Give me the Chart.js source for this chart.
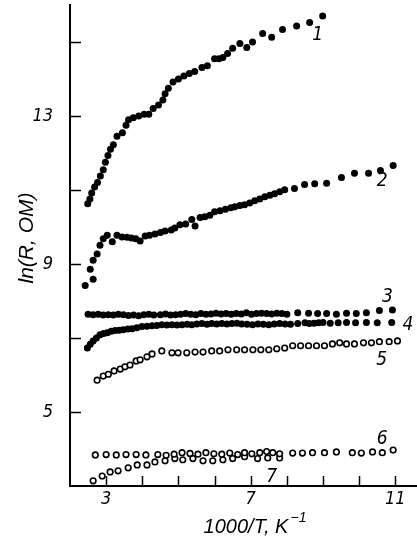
<!DOCTYPE html>
<html>
<head>
<meta charset="utf-8">
<script src="https://cdn.jsdelivr.net/npm/chart.js@4.4.1/dist/chart.umd.min.js"></script>
<style>
  html, body { margin: 0; padding: 0; background: #fff; }
  #chart { display: block; }
</style>
</head>
<body>
<canvas id="chart" width="417" height="542"></canvas>
<script>
// axis ticks (every tick gets a mark, only some get a number)
const xTicks = [3, 4, 5, 6, 7, 8, 9, 10, 11];
const xLabels = [3, 7, 11];
const yTicks = [5, 7, 9, 11, 13, 15];
const yLabels = [5, 9, 13];

// curves, [1000/T, ln R]
const curve1 = [[2.49,10.63],[2.55,10.76],[2.6,10.92],[2.68,11.08],[2.76,11.2],[2.84,11.38],[2.92,11.55],[2.98,11.75],[3.05,11.93],
  [3.12,12.1],[3.2,12.22],[3.3,12.45],[3.45,12.55],[3.55,12.75],[3.62,12.9],[3.75,12.95],[3.9,13.0],[4.05,13.05],[4.18,13.05],
  [4.3,13.2],[4.45,13.3],[4.57,13.43],[4.63,13.6],[4.72,13.75],[4.85,13.92],[5.0,14.0],[5.15,14.08],[5.3,14.15],[5.45,14.2],
  [5.65,14.31],[5.8,14.36],[6.0,14.55],[6.12,14.55],[6.23,14.58],[6.36,14.69],[6.5,14.83],[6.7,14.96],[6.89,14.85],[7.05,15.0],
  [7.33,15.23],[7.58,15.13],[7.88,15.34],[8.27,15.43],[8.63,15.53],[8.99,15.7]];
const curve2 = [[2.42,8.42],[2.64,8.59],[2.56,8.86],[2.64,9.1],[2.75,9.27],[2.83,9.51],[2.92,9.68],[3.03,9.78],[3.17,9.6],
  [3.3,9.78],[3.44,9.73],[3.58,9.72],[3.7,9.7],[3.82,9.68],[3.94,9.62],[4.08,9.76],[4.2,9.78],[4.35,9.81],[4.5,9.85],[4.63,9.89],
  [4.8,9.92],[4.9,9.97],[5.04,10.06],[5.2,10.08],[5.37,10.2],[5.46,10.03],[5.6,10.26],[5.73,10.28],[5.87,10.32],[6.0,10.41],
  [6.15,10.44],[6.3,10.48],[6.45,10.52],[6.56,10.55],[6.7,10.58],[6.83,10.6],[6.97,10.65],[7.11,10.71],[7.25,10.76],[7.39,10.82],
  [7.53,10.86],[7.66,10.9],[7.8,10.95],[7.94,11.01],[8.21,11.04],[8.49,11.15],[8.77,11.17],[9.1,11.18],[9.51,11.34],[9.87,11.45],
  [10.26,11.45],[10.59,11.53],[10.94,11.66]];
const curve3 = [[2.5,7.64],[2.64,7.63],[2.78,7.64],[2.92,7.62],[3.06,7.63],[3.2,7.62],[3.34,7.64],[3.48,7.63],[3.62,7.61],
  [3.76,7.62],[3.9,7.6],[4.04,7.63],[4.18,7.64],[4.32,7.62],[4.5,7.63],[4.64,7.65],[4.78,7.62],[4.92,7.63],[5.06,7.64],[5.2,7.66],
  [5.34,7.64],[5.48,7.63],[5.62,7.66],[5.76,7.64],[5.9,7.65],[6.04,7.67],[6.18,7.65],[6.32,7.66],[6.46,7.64],[6.6,7.66],[6.74,7.65],
  [6.88,7.68],[7.02,7.64],[7.16,7.66],[7.3,7.67],[7.44,7.66],[7.58,7.65],[7.72,7.67],[7.86,7.66],[8.0,7.64],[8.3,7.68],[8.6,7.67],
  [8.85,7.66],[9.1,7.66],[9.37,7.64],[9.65,7.67],[9.92,7.66],[10.2,7.68],[10.56,7.74],[10.92,7.76]];
const curve4 = [[2.48,6.73],[2.56,6.83],[2.64,6.92],[2.73,7.0],[2.83,7.09],[2.93,7.12],[3.03,7.14],[3.14,7.18],[3.25,7.2],
  [3.36,7.21],[3.47,7.22],[3.6,7.24],[3.72,7.25],[3.85,7.28],[3.99,7.31],[4.13,7.32],[4.27,7.33],[4.4,7.34],[4.54,7.36],[4.68,7.35],
  [4.82,7.36],[4.96,7.35],[5.1,7.36],[5.24,7.37],[5.37,7.36],[5.51,7.38],[5.65,7.39],[5.79,7.37],[5.92,7.39],[6.06,7.38],[6.2,7.39],
  [6.34,7.38],[6.48,7.39],[6.62,7.4],[6.75,7.38],[6.9,7.37],[7.05,7.36],[7.2,7.38],[7.35,7.37],[7.5,7.36],[7.65,7.38],[7.8,7.39],
  [7.95,7.38],[8.1,7.37],[8.3,7.39],[8.5,7.41],[8.62,7.39],[8.75,7.4],[8.88,7.41],[9.0,7.42],[9.2,7.4],[9.42,7.41],[9.65,7.42],
  [9.9,7.41],[10.2,7.42],[10.5,7.41],[10.9,7.42]];
const curve5 = [[2.75,5.86],[2.92,5.97],[3.06,6.02],[3.22,6.11],[3.39,6.16],[3.52,6.22],[3.66,6.27],[3.83,6.38],[3.94,6.41],
  [4.13,6.49],[4.27,6.57],[4.54,6.65],[4.82,6.6],[4.99,6.6],[5.23,6.6],[5.46,6.62],[5.68,6.62],[5.92,6.65],[6.14,6.65],[6.37,6.68],
  [6.61,6.68],[6.83,6.68],[7.06,6.68],[7.28,6.68],[7.5,6.68],[7.72,6.71],[7.94,6.73],[8.16,6.79],[8.38,6.79],[8.6,6.79],[8.82,6.79],
  [9.04,6.79],[9.26,6.84],[9.46,6.87],[9.65,6.84],[9.87,6.84],[10.12,6.87],[10.34,6.87],[10.56,6.9],[10.83,6.9],[11.06,6.92]];
const curve6 = [[2.7,3.84],[3.0,3.85],[3.28,3.84],[3.55,3.85],[3.83,3.85],[4.1,3.84],[4.43,3.85],[4.66,3.83],[4.88,3.86],
  [5.1,3.9],[5.32,3.88],[5.54,3.86],[5.76,3.9],[5.98,3.87],[6.2,3.86],[6.42,3.89],[6.64,3.85],[6.83,3.9],[7.03,3.87],[7.25,3.9],
  [7.44,3.93],[7.61,3.9],[7.8,3.87],[8.16,3.89],[8.43,3.89],[8.71,3.9],[9.04,3.9],[9.37,3.92],[9.81,3.9],[10.06,3.89],[10.37,3.92],
  [10.64,3.9],[10.94,3.97]];
const curve7 = [[2.64,3.14],[2.89,3.27],[3.11,3.38],[3.33,3.41],[3.61,3.49],[3.86,3.57],[4.13,3.57],[4.35,3.65],[4.63,3.68],
  [4.9,3.74],[5.12,3.71],[5.4,3.74],[5.68,3.68],[5.95,3.68],[6.23,3.71],[6.5,3.74],[6.83,3.79],[7.19,3.74],[7.47,3.76],[7.8,3.76]];

const curves = [curve1, curve2, curve3, curve4, curve5, curve6, curve7];
const filled = [true, true, true, true, false, false, false];

// curve numbers, placed in data units
const curveLabels = [
  { text: '1', x: 8.85, y: 15.18 },
  { text: '2', x: 10.64, y: 11.23 },
  { text: '3', x: 10.78, y: 8.1 },
  { text: '4', x: 11.35, y: 7.36 },
  { text: '5', x: 10.62, y: 6.41 },
  { text: '6', x: 10.64, y: 4.28 },
  { text: '7', x: 7.58, y: 3.25 }
];

const FONT = "'Liberation Sans Narrow', 'DejaVu Sans Condensed', sans-serif";

const axisMarks = {
  id: 'axisMarks',
  afterDraw(chart) {
    const { ctx, chartArea: a, scales: { x, y } } = chart;
    ctx.save();
    ctx.strokeStyle = '#000';
    ctx.lineWidth = 1.5;
    xTicks.forEach(v => {
      const px = Math.round(x.getPixelForValue(v)) + 0.5;
      ctx.beginPath(); ctx.moveTo(px, a.bottom); ctx.lineTo(px, a.bottom - 10); ctx.stroke();
    });
    yTicks.forEach(v => {
      const py = Math.round(y.getPixelForValue(v)) + 0.5;
      ctx.beginPath(); ctx.moveTo(a.left, py); ctx.lineTo(a.left + 11, py); ctx.stroke();
    });

    ctx.fillStyle = '#000';
    ctx.textAlign = 'center';
    ctx.textBaseline = 'middle';
    ctx.font = 'italic 19px ' + FONT;
    curveLabels.forEach(l => ctx.fillText(l.text, x.getPixelForValue(l.x), y.getPixelForValue(l.y)));

    // x title with superscript
    ctx.font = "italic 20px 'Liberation Sans', sans-serif";
    const main = '1000/T, K';
    const mw = ctx.measureText(main).width;
    ctx.font = "italic 14px 'Liberation Sans', sans-serif";
    const sup = '\u22121';
    const sw = ctx.measureText(sup).width;
    const startX = 255 - (mw + sw + 2) / 2;
    ctx.textAlign = 'left';
    ctx.font = "italic 20px 'Liberation Sans', sans-serif";
    ctx.fillText(main, startX, 527);
    ctx.font = "italic 14px 'Liberation Sans', sans-serif";
    ctx.fillText(sup, startX + mw + 2, 518);

    // y title
    ctx.translate(27, 238);
    ctx.rotate(-Math.PI / 2);
    ctx.textAlign = 'center';
    ctx.font = "italic 21px 'Liberation Sans', sans-serif";
    ctx.fillText('ln(R, ОМ)', 0, 0);
    ctx.restore();
  }
};

new Chart(document.getElementById('chart'), {
  type: 'scatter',
  data: {
    datasets: curves.map((c, i) => ({
      label: String(i + 1),
      data: c.map(p => ({ x: p[0], y: p[1] })),
      showLine: false,
      pointRadius: filled[i] ? 3.5 : 2.8,
      pointBorderWidth: filled[i] ? 0 : 1.6,
      pointBackgroundColor: filled[i] ? '#000' : '#fff',
      pointBorderColor: '#000'
    }))
  },
  options: {
    responsive: false,
    animation: false,
    layout: { autoPadding: false, padding: { top: 5, right: 0, left: 0, bottom: 0 } },
    plugins: { legend: { display: false }, tooltip: { enabled: false } },
    scales: {
      x: {
        type: 'linear',
        min: 2,
        max: 11.6,
        afterBuildTicks: s => { s.ticks = xTicks.map(v => ({ value: v })); },
        afterFit: s => { s.height = 56; s.paddingLeft = 0; s.paddingRight = 0; },
        grid: { display: false, drawTicks: false },
        border: { display: true, color: '#000', width: 2 },
        ticks: {
          autoSkip: false,
          maxRotation: 0,
          padding: 3,
          color: '#000',
          font: { family: FONT, size: 18, style: 'italic' },
          callback: v => xLabels.includes(v) ? String(v) : null
        }
      },
      y: {
        type: 'linear',
        min: 3,
        max: 16,
        afterBuildTicks: s => { s.ticks = yTicks.map(v => ({ value: v })); },
        afterFit: s => { s.width = 70; s.paddingTop = 0; s.paddingBottom = 0; },
        grid: { display: false, drawTicks: false },
        border: { display: true, color: '#000', width: 2 },
        ticks: {
          autoSkip: false,
          padding: 17,
          color: '#000',
          font: { family: FONT, size: 18, style: 'italic' },
          callback: v => yLabels.includes(v) ? String(v) : null
        }
      }
    }
  },
  plugins: [axisMarks]
});
</script>
</body>
</html>
